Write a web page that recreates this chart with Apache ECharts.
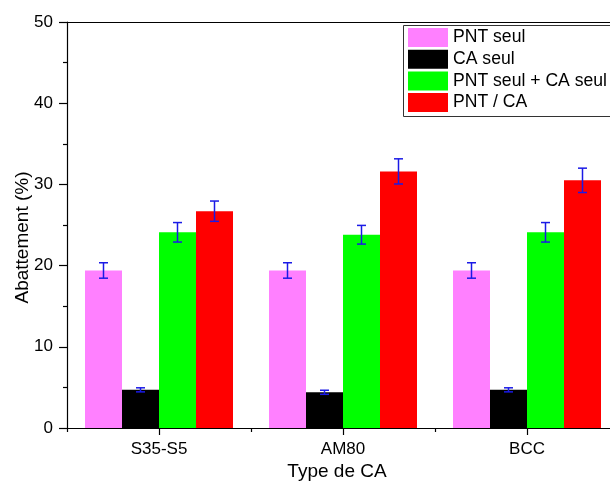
<!DOCTYPE html>
<html><head><meta charset="utf-8">
<script src="https://cdn.jsdelivr.net/npm/echarts@6/dist/echarts.min.js"></script>
<style>html,body{margin:0;padding:0;background:#fff}#c{width:610px;height:490px}</style>
</head><body><div id="c"></div>
<script>
const categories = ['S35-S5', 'AM80', 'BCC'];
const seriesNames = ['PNT seul', 'CA seul', 'PNT seul + CA seul', 'PNT / CA'];
const pntSeul = [19.4, 19.4, 19.4];
const caSeul = [4.7, 4.4, 4.7];
const pntPlusCa = [24.1, 23.8, 24.1];
const pntCa = [26.7, 31.6, 30.5];
const errPntSeul = [0.95, 0.95, 0.95];
const errCaSeul = [0.25, 0.25, 0.25];
const errPntPlusCa = [1.2, 1.15, 1.2];
const errPntCa = [1.25, 1.55, 1.5];
const yTicks = [0, 10, 20, 30, 40, 50];

const colors = ['#ff80ff', '#000000', '#00ff00', '#ff0000'];
const values = [pntSeul, caSeul, pntPlusCa, pntCa];
const errors = [errPntSeul, errCaSeul, errPntPlusCa, errPntCa];
const BAR_W = 37;
const FONT = 'Liberation Sans, Arial, sans-serif';

const chart = echarts.init(document.getElementById('c'));
const series = [];
values.forEach((vals, i) => {
  series.push({
    name: seriesNames[i], type: 'bar', data: vals, barWidth: BAR_W, barGap: '0%',
    itemStyle: { color: colors[i] }, xAxisIndex: 0, yAxisIndex: 0
  });
});
values.forEach((vals, i) => {
  series.push({
    type: 'custom', xAxisIndex: 0, yAxisIndex: 0, z: 5, silent: true,
    data: vals.map((v, k) => [k, v - errors[i][k], v + errors[i][k]]),
    renderItem: function (params, api) {
      const lo = api.coord([api.value(0), api.value(1)]);
      const hi = api.coord([api.value(0), api.value(2)]);
      const x = lo[0] + (i - 1.5) * BAR_W;
      const cap = 4.5;
      const st = { stroke: '#1a1ae6', lineWidth: 1.5 };
      return { type: 'group', children: [
        { type: 'line', shape: { x1: x, y1: lo[1], x2: x, y2: hi[1] }, style: st },
        { type: 'line', shape: { x1: x - cap, y1: lo[1], x2: x + cap, y2: lo[1] }, style: st },
        { type: 'line', shape: { x1: x - cap, y1: hi[1], x2: x + cap, y2: hi[1] }, style: st }
      ]};
    }
  });
});

chart.setOption({
  animation: false,
  grid: { left: 67, top: 22, width: 552, height: 406, outerBoundsMode: 'none', containLabel: false },
  legend: {
    orient: 'vertical', left: 408, top: 28, padding: 0, itemWidth: 40, itemHeight: 19, itemGap: 2.7,
    icon: 'rect', data: seriesNames, selectedMode: false,
    textStyle: { fontFamily: FONT, fontSize: 17.6, lineHeight: 19, color: '#000' }
  },
  xAxis: [
    { type: 'category', data: categories, position: 'bottom',
      axisLine: { show: true, lineStyle: { color: '#000', width: 1.2 } },
      axisTick: { show: true, alignWithLabel: true, length: 7, lineStyle: { color: '#000', width: 1.2 } },
      axisLabel: { fontFamily: FONT, fontSize: 17, color: '#000', margin: 13 } },
    { type: 'category', data: categories, position: 'bottom', gridIndex: 0,
      axisLine: { show: false }, axisLabel: { show: false },
      axisTick: { show: true, length: 4, lineStyle: { color: '#000', width: 1.2 } } },
    { type: 'category', data: categories, position: 'top', gridIndex: 0,
      axisLine: { show: true, lineStyle: { color: '#000', width: 1.2 } },
      axisTick: { show: false }, axisLabel: { show: false } }
  ],
  yAxis: [
    { type: 'value', min: yTicks[0], max: yTicks[yTicks.length - 1], interval: 10,
      axisLine: { show: true, lineStyle: { color: '#000', width: 1.2 } },
      axisTick: { show: true, length: 8, lineStyle: { color: '#000', width: 1.2 } },
      minorTick: { show: true, splitNumber: 2, length: 4, lineStyle: { color: '#000', width: 1.2 } },
      splitLine: { show: false },
      axisLabel: { fontFamily: FONT, fontSize: 17, color: '#000', margin: 14 } }
  ],
  graphic: [
    { type: 'text', x: 23, y: 237.5, rotation: Math.PI / 2, z: 10,
      style: { text: 'Abattement (%)', fontFamily: FONT, fontSize: 19, fill: '#000',
               align: 'center', verticalAlign: 'middle' } },
    { type: 'text', x: 337, y: 472, z: 10,
      style: { text: 'Type de CA', fontFamily: FONT, fontSize: 19, fill: '#000',
               align: 'center', verticalAlign: 'middle' } },
    { type: 'rect', shape: { x: 403.5, y: 25.5, width: 260, height: 91 },
      style: { fill: 'none', stroke: '#333', lineWidth: 1 }, z: 10 }
  ],
  series: series
});
</script></body></html>
